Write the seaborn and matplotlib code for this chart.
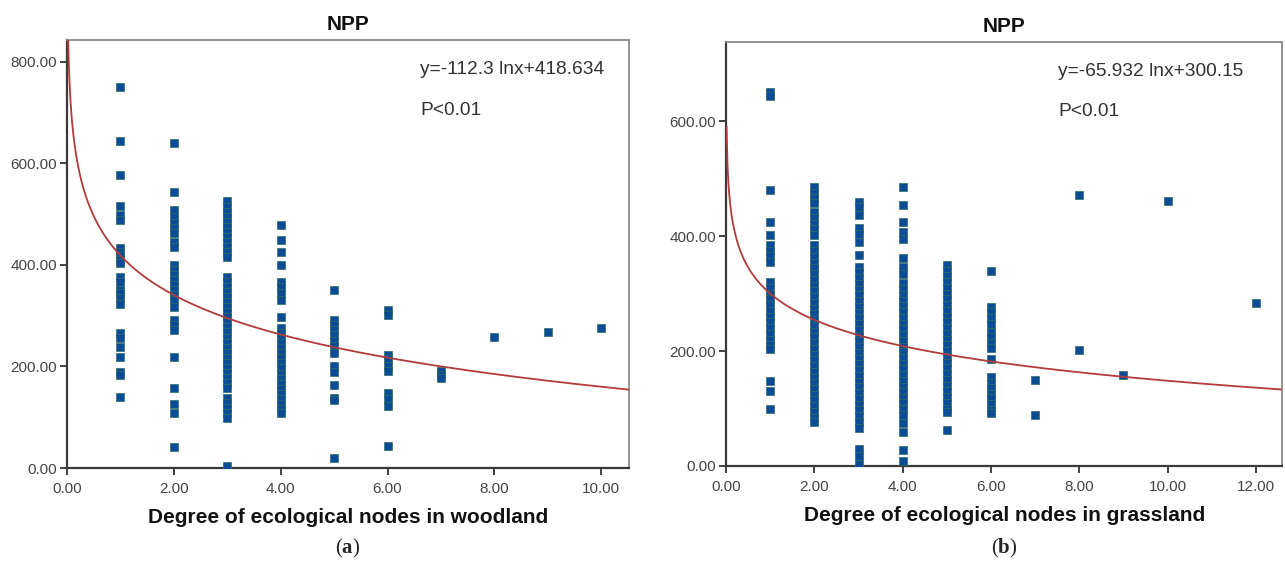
import numpy as np
import pandas as pd
import matplotlib
matplotlib.use('Agg')
import matplotlib.pyplot as plt
import seaborn as sns

sns.set_style("ticks")
plt.rcParams['font.family'] = ['Liberation Sans', 'DejaVu Sans']
plt.rcParams['mathtext.fontset'] = 'custom'
plt.rcParams['mathtext.bf'] = 'Liberation Serif:bold'
plt.rcParams['mathtext.rm'] = 'Liberation Serif'

# ---- woodland (a): NPP values per node degree ----
wood_1 = [750, 645, 578, 517, 498, 489, 433, 425, 418, 410, 404, 377, 367, 351, 344,
          334, 324, 265, 256, 239, 219, 190, 183, 140]
wood_2 = [641, 544, 508, 495, 482, 472, 462, 446, 436, 400, 390, 380, 370, 360, 351,
          341, 331, 318, 292, 282, 272, 219, 157, 127, 108, 42]
wood_3 = [525, 515, 505, 495, 485, 475, 465, 455, 445, 435, 425, 415, 377, 367, 357,
          347, 337, 327, 317, 307, 297, 287, 277, 267, 257, 247, 237, 227, 217, 207,
          197, 187, 177, 167, 157, 138, 128, 118, 108, 98, 3]
wood_4 = [479, 449, 426, 400, 367, 356, 345, 331, 298, 276, 266, 256, 246, 236, 226,
          216, 206, 196, 186, 176, 166, 156, 146, 136, 126, 116, 108]
wood_5 = [351, 291, 281, 271, 261, 250, 240, 226, 200, 190, 164, 138, 133, 20]
wood_6 = [312, 302, 222, 214, 200, 192, 148, 136, 122, 44]
wood_7 = [192, 184, 177]
wood_8 = [259]
wood_9 = [267]
wood_10 = [275]

# ---- grassland (b) ----
grass_1 = [651, 644, 480, 424, 402, 385, 375, 365, 355, 320, 310, 300, 290, 280, 270,
           260, 250, 240, 230, 220, 210, 203, 148, 130, 100]
grass_2 = [486, 476, 466, 457, 442, 432, 422, 412, 402, 384, 374, 364, 354, 344, 334,
           324, 314, 304, 294, 284, 274, 264, 254, 244, 234, 224, 214, 204, 194, 184,
           174, 164, 154, 144, 134, 124, 114, 104, 94, 84, 77]
grass_3 = [460, 450, 437, 414, 403, 390, 367, 347, 337, 327, 317, 307, 297, 287, 277,
           267, 257, 247, 237, 227, 217, 207, 197, 187, 177, 167, 157, 147, 137, 127,
           117, 107, 97, 87, 76, 66, 30, 17, 4]
grass_4 = [486, 454, 425, 407, 395, 362, 347, 334, 318, 308, 298, 288, 278, 268, 258,
           248, 238, 228, 218, 208, 198, 188, 178, 168, 158, 148, 138, 128, 118, 110,
           100, 88, 75, 60, 28, 8]
grass_5 = [350, 340, 330, 320, 310, 300, 290, 280, 270, 260, 250, 240, 230, 220, 210,
           200, 190, 180, 170, 160, 150, 140, 130, 120, 110, 100, 94, 63]
grass_6 = [340, 277, 268, 258, 248, 234, 224, 214, 205, 186, 155, 145, 135, 125, 118,
           108, 98, 92]
grass_7 = [150, 88]
grass_8 = [471, 202]
grass_9 = [158]
grass_10 = [462]
grass_12 = [283]

# fitted curves y = a*ln(x) + b (from the chart text)
wood_a, wood_b = -112.3, 418.634
grass_a, grass_b = -65.932, 300.15


def long_table(columns):
    rows = []
    for deg, vals in columns.items():
        for v in vals:
            rows.append((deg, v))
    return pd.DataFrame(rows, columns=['degree', 'npp'])


wood_df = long_table({1: wood_1, 2: wood_2, 3: wood_3, 4: wood_4, 5: wood_5,
                      6: wood_6, 7: wood_7, 8: wood_8, 9: wood_9, 10: wood_10})
grass_df = long_table({1: grass_1, 2: grass_2, 3: grass_3, 4: grass_4, 5: grass_5,
                       6: grass_6, 7: grass_7, 8: grass_8, 9: grass_9, 10: grass_10,
                       12: grass_12})

fig = plt.figure(figsize=(12.85, 5.76), dpi=100)
ax1 = fig.add_axes([0.0521, 0.1875, 0.4374, 0.743])
ax2 = fig.add_axes([0.565, 0.191, 0.433, 0.736])

panels = [
    (ax1, wood_df, wood_a, wood_b, (0, 10.52), (0, 843), [0, 200, 400, 600, 800],
     np.arange(0, 11, 2), 'Degree of ecological nodes in woodland',
     'y=-112.3 lnx+418.634', 0.628, '(a)'),
    (ax2, grass_df, grass_a, grass_b, (0, 12.6), (0, 738), [0, 200, 400, 600],
     np.arange(0, 13, 2), 'Degree of ecological nodes in grassland',
     'y=-65.932 lnx+300.15', 0.597, '(b)'),
]

for ax, df, a, b, xlim, ylim, yticks, xticks, xlabel, eq, eqx, tag in panels:
    sns.scatterplot(data=df, x='degree', y='npp', ax=ax, marker='s', s=34,
                    color='#0c4c96', edgecolor='#2f6e62', linewidth=0.5, zorder=3)
    xs = np.linspace(0.012, xlim[1], 600)
    ax.plot(xs, a * np.log(xs) + b, color='#b23b3b', lw=1.3, zorder=4)
    ax.set_xlim(*xlim)
    ax.set_ylim(*ylim)
    ax.set_xticks(xticks)
    ax.set_yticks(yticks)
    ax.set_xticklabels([f'{t:.2f}' for t in xticks])
    ax.set_yticklabels([f'{t:.2f}' for t in yticks])
    ax.tick_params(direction='out', length=5, width=1.3, colors='#333333',
                   labelsize=11, labelcolor='#444444')
    ax.tick_params(axis='x', pad=5)
    ax.tick_params(axis='y', pad=2)
    for side in ['top', 'right']:
        ax.spines[side].set_color('#8a8a8a')
        ax.spines[side].set_linewidth(1.3)
    for side in ['left', 'bottom']:
        ax.spines[side].set_color('#3a3a3a')
        ax.spines[side].set_linewidth(1.6)
    ax.set_title('NPP', fontsize=15, fontweight='bold', color='#111111', pad=7)
    ax.set_xlabel(xlabel, fontsize=15, fontweight='bold', color='#111111', labelpad=9)
    ax.set_ylabel('')
    ax.text(eqx, 0.93, eq, transform=ax.transAxes, fontsize=13.8, color='#333333',
            va='center', ha='left')
    ax.text(eqx, 0.835, 'P<0.01', transform=ax.transAxes, fontsize=13.8,
            color='#333333', va='center', ha='left')
    cx = (ax.get_position().x0 + ax.get_position().x1) / 2
    fig.text(cx, 1 - 548 / 576, '(' + r'$\mathbf{' + tag[1] + '}$' + ')',
             family='Liberation Serif', fontsize=15, ha='center', va='center')

plt.savefig('out.png', dpi=100)
plt.close()
